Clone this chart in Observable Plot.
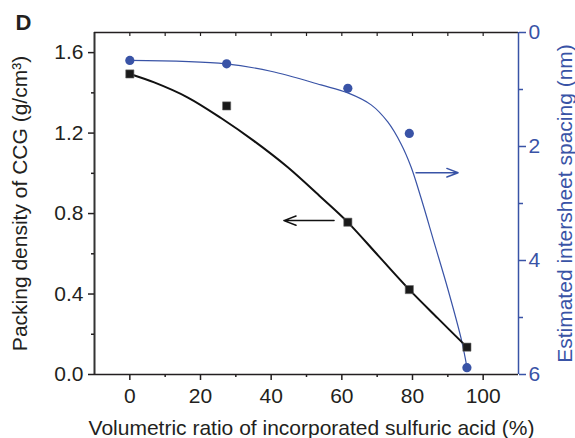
<!DOCTYPE html>
<html><head><meta charset="utf-8">
<script src="https://cdn.jsdelivr.net/npm/d3@7"></script>
<script src="https://cdn.jsdelivr.net/npm/@observablehq/plot@0.6"></script>
<style>body{margin:0;background:#fff}</style>
</head><body><div id="chart"></div>
<script>
// ---- data ----
const ratio = [0, 27.4, 61.7, 79.1, 95.4];             // volumetric ratio (%)
const density = [1.494, 1.335, 0.757, 0.422, 0.136];   // packing density (g/cm3)
const spacing = [0.49, 0.55, 0.98, 1.77, 5.88];        // intersheet spacing (nm)
// fitted guide curves
const densityFitX = [0, 6.9, 16.3, 25.8, 35.2, 44.7, 54.1, 61.5, 70.3, 79.1, 87.2, 95.4];
const densityFitY = [1.494, 1.452, 1.378, 1.275, 1.16, 1.03, 0.881, 0.76, 0.591, 0.422, 0.279, 0.136];
const spacingFitX = [0, 27.2, 39.9, 54.1, 61.7, 68.3, 73, 76.8, 79.6, 82.4, 86.2, 90, 93.8, 95.4];
const spacingFitY = [0.49, 0.55, 0.68, 0.92, 1.06, 1.27, 1.57, 1.96, 2.36, 2.9, 3.7, 4.5, 5.38, 5.87];
// tick labels
const xMajor = [0, 20, 40, 60, 80, 100];
const xMinor = [10, 30, 50, 70, 90];
const xTop = [0, 10, 20, 30, 40, 50, 60, 70, 80, 90, 100];
const yMajor = [0, 0.4, 0.8, 1.2, 1.6];
const yMinor = [0.2, 0.6, 1.0, 1.4];
const rMajor = [0, 2, 4, 6];
const rMinor = [1, 3, 5];
const xDomain = [-10, 110];
const yDomain = [0, 1.7];
const rDomain = [0, 6];
// arrows (x1 -> x2 in % ; y in left units or right units)
const blackArrow = {x1: 57.8, x2: 43.6, y: 0.765};
const blueArrow = {x1: 81, x2: 92.9, r: 2.46};

// ---- helpers ----
const toL = v => yDomain[1] * (1 - v / rDomain[1]);
const toR = d => rDomain[1] * (1 - d / yDomain[1]);
const blue = "#3953a6";
const dark = "#231f20";
const FS = 21;

const pts = ratio.map((x, i) => ({x, d: density[i], s: toL(spacing[i])}));
const dFit = densityFitX.map((x, i) => ({x, y: densityFitY[i]}));
const sFit = spacingFitX.map((x, i) => ({x, y: toL(spacingFitY[i])}));

const chart = Plot.plot({
  width: 575, height: 438,
  marginLeft: 94, marginRight: 57, marginTop: 32, marginBottom: 64,
  style: {fontFamily: "'Liberation Sans', Arial, sans-serif", fontSize: FS + "px", color: dark, background: "#fff"},
  x: {domain: xDomain},
  y: {domain: yDomain},
  marks: [
    // frame
    Plot.ruleX([xDomain[0]], {stroke: "#333", strokeWidth: 2}),
    Plot.ruleY([yDomain[0]], {stroke: dark, strokeWidth: 1.6}),
    Plot.ruleY([yDomain[1]], {stroke: dark, strokeWidth: 1.4}),
    Plot.ruleX([xDomain[1]], {stroke: blue, strokeWidth: 1.5}),
    // bottom axis
    Plot.axisX(xMajor, {anchor: "bottom", tickSize: 6, tickPadding: 8, strokeWidth: 1.5, fontSize: FS, tickFormat: d => String(d), label: null}),
    Plot.axisX(xMinor, {anchor: "bottom", tickSize: 3, strokeWidth: 1.5, tickFormat: () => "", label: null}),
    Plot.axisX(xTop, {anchor: "top", tickSize: -3, strokeWidth: 1.2, tickFormat: () => "", label: null}),
    // left axis
    Plot.axisY(yMajor, {anchor: "left", tickSize: 6, tickPadding: 5, strokeWidth: 1.5, fontSize: FS, tickFormat: d3.format(".1f"), label: null}),
    Plot.axisY(yMinor, {anchor: "left", tickSize: 3, strokeWidth: 1.5, tickFormat: () => "", label: null}),
    // right axis
    Plot.axisY(rMajor.map(toL), {anchor: "right", tickSize: 7, tickPadding: 3, strokeWidth: 1.5, fontSize: FS, color: blue, tickFormat: d => String(Math.round(toR(d))), label: null}),
    Plot.axisY(rMinor.map(toL), {anchor: "right", tickSize: 4, strokeWidth: 1.5, color: blue, tickFormat: () => "", label: null}),
    // axis titles
    Plot.text(["Volumetric ratio of incorporated sulfuric acid (%)"], {frameAnchor: "bottom", dx: 5, dy: 53.5, textAnchor: "middle", lineAnchor: "middle", fill: dark, fontSize: FS}),
    Plot.text(["Packing density of CCG (g/cm³)"], {frameAnchor: "left", dx: -74, rotate: -90, textAnchor: "middle", lineAnchor: "middle", fill: dark, fontSize: FS}),
    Plot.text(["Estimated intersheet spacing (nm)"], {frameAnchor: "right", dx: 47, rotate: -90, textAnchor: "middle", lineAnchor: "middle", fill: blue, fontSize: FS}),
    Plot.text(["D"], {frameAnchor: "top-left", dx: -79, dy: -10, textAnchor: "start", lineAnchor: "middle", fontWeight: "bold", fontSize: 22, fill: dark}),
    // fitted curves
    Plot.line(sFit, {x: "x", y: "y", stroke: blue, strokeWidth: 1.2, curve: "catmull-rom"}),
    Plot.line(dFit, {x: "x", y: "y", stroke: "#111", strokeWidth: 2, curve: "catmull-rom"}),
    // arrows
    Plot.arrow([blackArrow], {x1: "x1", x2: "x2", y1: "y", y2: "y", stroke: "#111", strokeWidth: 1.5, headLength: 13, headAngle: 42}),
    Plot.arrow([blueArrow], {x1: "x1", x2: "x2", y1: d => toL(d.r), y2: d => toL(d.r), stroke: blue, strokeWidth: 1.5, headLength: 12, headAngle: 42}),
    // data points
    Plot.dot(pts, {x: "x", y: "s", r: 4.6, fill: blue, stroke: "none"}),
    Plot.dot(pts, {x: "x", y: "d", symbol: "square", r: 4.6, fill: "#1a1a1a", stroke: "#666", strokeWidth: 0.6})
  ]
});
document.getElementById("chart").appendChild(chart);
</script>
</body></html>
